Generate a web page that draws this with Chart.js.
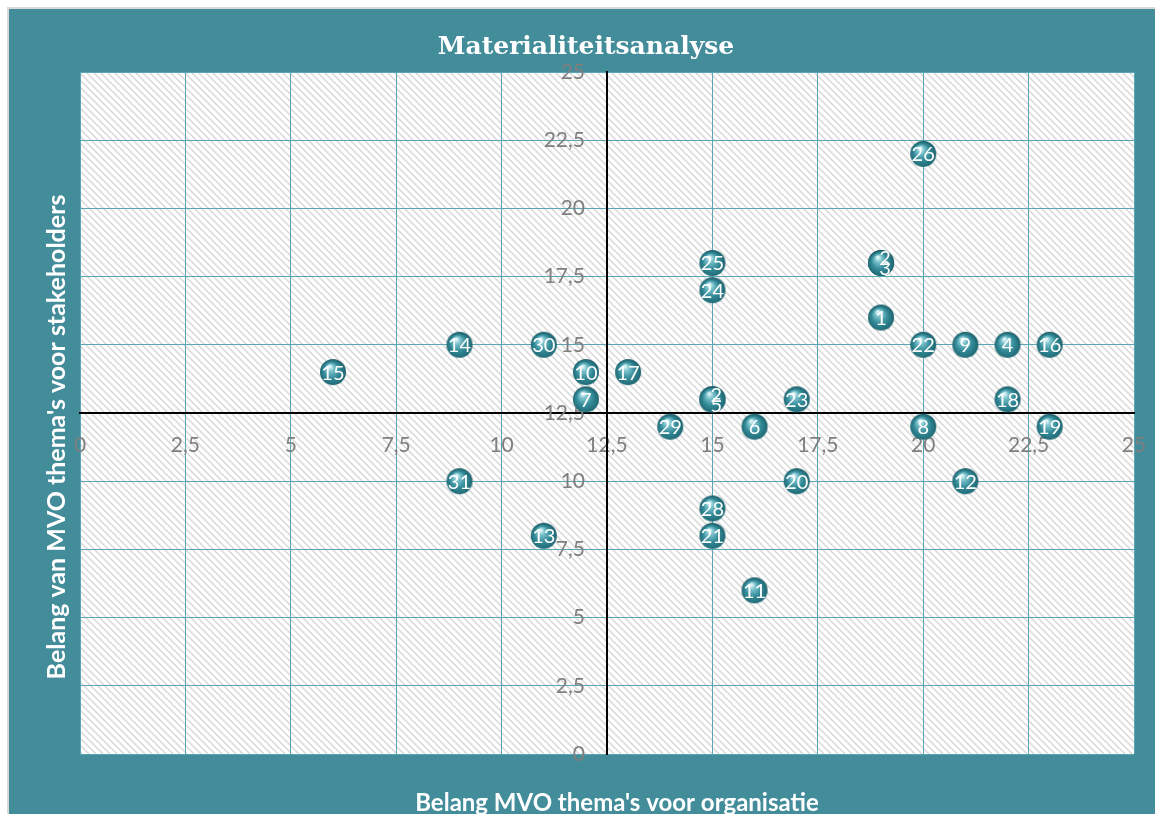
<!DOCTYPE html>
<html>
<head>
<meta charset="utf-8">
<script src="https://cdn.jsdelivr.net/npm/chart.js@4/dist/chart.umd.min.js"></script>
<style>
  html, body { margin: 0; padding: 0; background: #fff; overflow: hidden; }
  #wrap { width: 1155px; height: 814px; position: relative; }
</style>
</head>
<body>
<div id="wrap"><canvas id="chart"></canvas></div>
<script>
// ---- DATA ----
const pointLabels = ['1','2','3','4','5','6','7','8','9','10','11','12','13','14','15','16',
                     '17','18','19','20','21','22','23','24','25','26','2','28','29','30','31'];
const orgScores   = [19,19,19,22,15,16,12,20,21,12,16,21,11, 9, 6,23,
                     13,22,23,17,15,20,17,15,15,20,15,15,14,11, 9];
const stakeScores = [16,18,18,15,13,12,13,12,15,14, 6,10, 8,15,14,15,
                     14,13,12,10, 8,15,13,17,18,22,13, 9,12,15,10];
const axisTicks   = [0, 2.5, 5, 7.5, 10, 12.5, 15, 17.5, 20, 22.5, 25];

const TEAL = '#438c9a';
const GRID = '#5aa6b4';
const TICK = '#7f7f7f';
const FONT = "Lato, 'Open Sans', sans-serif";

const fmt = v => String(v).replace('.', ',');

// ---- sphere marker ----
function makeSphere(r) {
  const c = document.createElement('canvas');
  c.width = c.height = r * 2 + 2;
  const g = c.getContext('2d');
  const cx = r + 1, cy = r + 1;
  const grad = g.createRadialGradient(cx - r * 0.25, cy - r * 0.45, 1, cx, cy + r * 0.1, r * 1.05);
  grad.addColorStop(0, '#dff4f7');
  grad.addColorStop(0.2, '#7cc3ce');
  grad.addColorStop(0.55, '#358c99');
  grad.addColorStop(0.85, '#23707c');
  grad.addColorStop(1, '#1a5863');
  g.fillStyle = grad;
  g.beginPath();
  g.arc(cx, cy, r, 0, Math.PI * 2);
  g.fill();
  return c;
}

// ---- hatch pattern ----
function makeHatch() {
  const s = 7;
  const c = document.createElement('canvas');
  c.width = c.height = s;
  const g = c.getContext('2d');
  g.fillStyle = '#ffffff';
  g.fillRect(0, 0, s, s);
  g.strokeStyle = '#d8d8d8';
  g.lineWidth = 1.5;
  g.beginPath();
  g.moveTo(-1, -1); g.lineTo(s + 1, s + 1);
  g.moveTo(-1, s - 1); g.lineTo(1, s + 1);
  g.moveTo(s - 1, -1); g.lineTo(s + 1, 1);
  g.stroke();
  return c;
}

const sphere = makeSphere(13);
const hatch = makeHatch();

const framePlugin = {
  id: 'frame',
  beforeDraw(chart) {
    const { ctx, chartArea: a, width, height } = chart;
    ctx.save();
    ctx.fillStyle = '#ffffff';
    ctx.fillRect(0, 0, width, height);
    ctx.fillStyle = TEAL;
    ctx.fillRect(9, 9, width - 9, height - 9);
    ctx.strokeStyle = '#d9d9d9';
    ctx.lineWidth = 2;
    ctx.beginPath();
    ctx.moveTo(8, height); ctx.lineTo(8, 8); ctx.lineTo(width, 8);
    ctx.stroke();
    ctx.fillStyle = ctx.createPattern(hatch, 'repeat');
    ctx.fillRect(a.left, a.top, a.right - a.left, a.bottom - a.top);
    ctx.restore();
  },
  afterDraw(chart) {
    const { ctx } = chart;
    ctx.save();
    ctx.fillStyle = '#ffffff';
    ctx.textAlign = 'center';
    ctx.textBaseline = 'middle';
    ctx.font = "bold 25px 'DejaVu Serif', serif";
    ctx.fillText('Materialiteitsanalyse', 586, 47);
    ctx.font = 'bold 24px ' + FONT;
    ctx.fillText("Belang MVO thema's voor organisatie", 617, 803);
    ctx.translate(57, 437);
    ctx.rotate(-Math.PI / 2);
    ctx.font = 'bold 25px ' + FONT;
    ctx.fillText("Belang van MVO thema's voor stakeholders", 0, 0);
    ctx.restore();
  }
};

// y tick labels sit left of the crossing axis with a gap (Chart.js ignores padding there)
const yTickPlugin = {
  id: 'yTickLabels',
  beforeDatasetsDraw(chart) {
    const { ctx, scales: { x, y } } = chart;
    const axisX = x.getPixelForValue(12.5);
    ctx.save();
    ctx.fillStyle = TICK;
    ctx.font = '21px ' + FONT;
    ctx.textAlign = 'right';
    ctx.textBaseline = 'middle';
    y.ticks.forEach(t => {
      ctx.fillText(fmt(t.value), axisX - 22, y.getPixelForValue(t.value));
    });
    ctx.restore();
  }
};

const labelPlugin = {
  id: 'bubbleLabels',
  afterDatasetsDraw(chart) {
    const { ctx } = chart;
    const meta = chart.getDatasetMeta(0);
    ctx.save();
    ctx.fillStyle = '#ffffff';
    ctx.font = '20px ' + FONT;
    ctx.textAlign = 'center';
    ctx.textBaseline = 'middle';
    meta.data.forEach((el, i) => {
      const same = orgScores
        .map((v, j) => j)
        .filter(j => orgScores[j] === orgScores[i] && stakeScores[j] === stakeScores[i]);
      let dx = 0, dy = 1;
      if (same.length > 1) {
        const lowest = Math.min(...same.map(j => Number(pointLabels[j])));
        dx = 4;
        dy = Number(pointLabels[i]) === lowest ? -4 : 6;
      }
      ctx.fillText(pointLabels[i], el.x + dx, el.y + dy);
    });
    ctx.restore();
  }
};

const noEdgePadding = s => { s.paddingLeft = 0; s.paddingRight = 0; s.paddingTop = 0; s.paddingBottom = 0; };

new Chart(document.getElementById('chart'), {
  type: 'scatter',
  data: {
    labels: pointLabels,
    datasets: [{
      data: orgScores.map((x, i) => ({ x, y: stakeScores[i] })),
      pointStyle: sphere,
      pointRadius: 13,
      pointHoverRadius: 13,
    }]
  },
  options: {
    responsive: true,
    maintainAspectRatio: false,
    animation: false,
    events: [],
    layout: { padding: { left: 80, top: 72, right: 21, bottom: 60 } },
    plugins: {
      legend: { display: false },
      tooltip: { enabled: false },
      title: { display: false }
    },
    scales: {
      x: {
        type: 'linear',
        min: 0, max: 25,
        position: { y: 12.5 },
        afterBuildTicks: s => { s.ticks = axisTicks.map(v => ({ value: v })); },
        afterFit: noEdgePadding,
        ticks: {
          color: TICK,
          font: { family: FONT, size: 21 },
          padding: 20,
          maxRotation: 0,
          autoSkip: false,
          callback: v => fmt(v)
        },
        grid: { color: GRID, lineWidth: 1, drawTicks: false },
        border: { color: '#000000', width: 2 }
      },
      y: {
        type: 'linear',
        min: 0, max: 25,
        position: { x: 12.5 },
        afterBuildTicks: s => { s.ticks = axisTicks.map(v => ({ value: v })); },
        afterFit: noEdgePadding,
        ticks: { display: false },
        grid: { color: GRID, lineWidth: 1, drawTicks: false },
        border: { color: '#000000', width: 2 }
      }
    }
  },
  plugins: [framePlugin, yTickPlugin, labelPlugin]
});
</script>
</body>
</html>
